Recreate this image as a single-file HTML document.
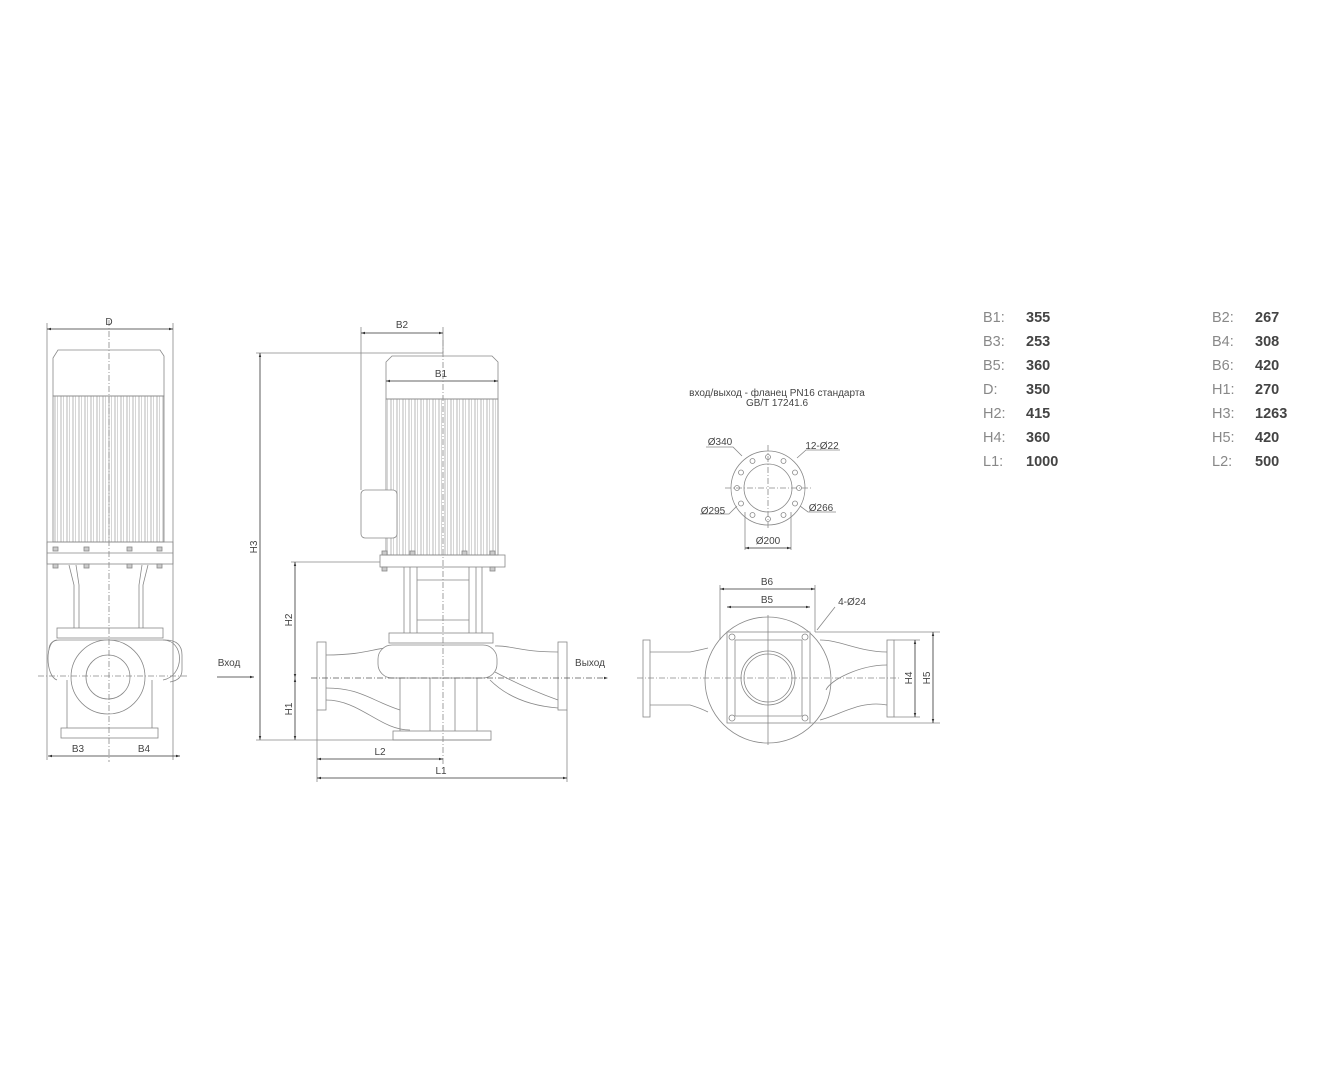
<!DOCTYPE html>
<html><head><meta charset="utf-8"><style>
html,body{margin:0;padding:0;background:#fff;}
svg{display:block;}
.t{font-family:"Liberation Sans",sans-serif;font-size:10px;fill:#444;}
.lab{font-family:"Liberation Sans",sans-serif;font-size:14.5px;fill:#888;}
.val{font-family:"Liberation Sans",sans-serif;font-size:14.5px;fill:#444;font-weight:bold;}
</style></head><body>
<svg width="1327" height="1086" viewBox="0 0 1327 1086" xmlns="http://www.w3.org/2000/svg">
<defs>
<pattern id="fins" width="6" height="10" patternUnits="userSpaceOnUse">
<line x1="1" y1="0" x2="1" y2="10" stroke="#999" stroke-width="0.7"/>
<line x1="3.5" y1="0" x2="3.5" y2="10" stroke="#bbb" stroke-width="0.6"/>
</pattern>
<marker id="ar" viewBox="0 0 10 10" refX="10" refY="5" markerWidth="7" markerHeight="5" orient="auto-start-reverse"><path d="M0,2 L10,5 L0,8z" fill="#333"/></marker>
</defs>
<g fill="none" stroke="#888" stroke-width="0.8">
<line x1="47" y1="323" x2="47" y2="760"/><line x1="173" y1="323" x2="173" y2="760"/>
<line x1="47" y1="329" x2="173" y2="329" stroke="#333" marker-start="url(#ar)" marker-end="url(#ar)"/>
<path d="M53,396 V358 L58,350 H160 L164,356 V396 Z"/>
<rect x="53" y="396" width="111" height="146" fill="url(#fins)"/>
<rect x="47" y="542" width="126" height="22"/>
<line x1="47" y1="553" x2="173" y2="553"/>
<g fill="#ccc"><rect x="53" y="547" width="5" height="4"/><rect x="84" y="547" width="5" height="4"/><rect x="127" y="547" width="5" height="4"/><rect x="157" y="547" width="5" height="4"/>
<rect x="53" y="564" width="5" height="4"/><rect x="84" y="564" width="5" height="4"/><rect x="127" y="564" width="5" height="4"/><rect x="157" y="564" width="5" height="4"/></g>
<path d="M69,565 L74,585 V628 M76,565 L79,585 V628 M148,565 L143,585 V628 M142,565 L139,585 V628"/>
<rect x="57" y="628" width="106" height="10"/>
<path d="M57,640 C45,640 45,676 57,680 M163,640 C185,640 185,676 163,680"/>
<path d="M49,650 Q49,640 60,640 H165 Q182,640 182,655 V670 Q182,680 170,682"/>
<path d="M67,680 V728 M152,680 V728"/>
<rect x="61" y="728" width="97" height="10"/>
<circle cx="108" cy="677" r="37" fill="#fff"/>
<circle cx="108" cy="677" r="22"/>
<line x1="109" y1="320" x2="109" y2="762" stroke-dasharray="6,2,1,2"/>
<line x1="38" y1="676" x2="188" y2="676" stroke-dasharray="6,2,1,2"/>
<line x1="48" y1="756" x2="180" y2="756" stroke="#333" marker-start="url(#ar)" marker-end="url(#ar)"/>
<line x1="217" y1="677" x2="254" y2="677" stroke="#333" marker-end="url(#ar)"/>

<line x1="256" y1="353" x2="443" y2="353"/>
<line x1="260" y1="353" x2="260" y2="740" stroke="#333" marker-start="url(#ar)" marker-end="url(#ar)"/>
<line x1="361" y1="327" x2="361" y2="490"/><line x1="443" y1="327" x2="443" y2="353"/>
<line x1="361" y1="333" x2="443" y2="333" stroke="#333" marker-start="url(#ar)" marker-end="url(#ar)"/>
<path d="M386,399 V362 L392,356 H492 L498,362 V399 Z"/>
<line x1="386" y1="381" x2="498" y2="381" stroke="#333" marker-start="url(#ar)" marker-end="url(#ar)"/>
<rect x="386" y="399" width="112" height="156" fill="url(#fins)"/>
<rect x="361" y="490" width="36" height="48" rx="4" fill="#fff"/>
<rect x="380" y="555" width="125" height="12"/>
<g fill="#ccc"><rect x="382" y="551" width="5" height="4"/><rect x="410" y="551" width="5" height="4"/><rect x="462" y="551" width="5" height="4"/><rect x="490" y="551" width="5" height="4"/>
<rect x="382" y="567" width="5" height="4"/><rect x="490" y="567" width="5" height="4"/></g>
<line x1="291" y1="562" x2="380" y2="562"/>
<line x1="295" y1="562" x2="295" y2="678" stroke="#333" marker-start="url(#ar)" marker-end="url(#ar)"/>
<line x1="295" y1="678" x2="295" y2="740" stroke="#333" marker-start="url(#ar)" marker-end="url(#ar)"/>
<path d="M404,567 V633 M410,567 V633 M476,567 V633 M482,567 V633 M417,567 V633 M469,567 V633 M417,580 H469 M417,620 H469"/>
<rect x="389" y="633" width="104" height="10"/>
<rect x="317" y="642" width="9" height="68"/><rect x="558" y="642" width="9" height="68"/>
<path d="M326,655 C360,655 370,650 385,648 M326,700 C360,700 380,730 410,730 M326,688 C360,688 370,700 400,710"/>
<path d="M558,652 C520,652 510,645 495,646 M558,708 C520,705 500,690 490,680 M558,700 C530,690 510,680 495,672"/>
<rect x="378" y="645" width="119" height="33" rx="14" fill="#fff"/>
<path d="M400,678 V731 M477,678 V731 M430,678 V731 M455,678 V731"/>
<rect x="393" y="731" width="98" height="9"/>
<line x1="443" y1="340" x2="443" y2="765" stroke-dasharray="6,2,1,2"/>
<line x1="311" y1="678" x2="608" y2="678" stroke-dasharray="6,2,1,2" stroke="#555" marker-end="url(#ar)"/>
<line x1="256" y1="740" x2="491" y2="740"/>
<line x1="317" y1="710" x2="317" y2="782"/><line x1="567" y1="710" x2="567" y2="782"/>
<line x1="317" y1="759" x2="443" y2="759" stroke="#333" marker-start="url(#ar)" marker-end="url(#ar)"/>
<line x1="317" y1="778" x2="567" y2="778" stroke="#333" marker-start="url(#ar)" marker-end="url(#ar)"/>

<circle cx="768" cy="488" r="37"/>
<circle cx="768" cy="488" r="24"/>
<g>
<circle cx="768" cy="457" r="2.5"/><circle cx="783.5" cy="461" r="2.5"/><circle cx="795" cy="472.5" r="2.5"/><circle cx="799" cy="488" r="2.5"/><circle cx="795" cy="503.5" r="2.5"/><circle cx="783.5" cy="515" r="2.5"/>
<circle cx="768" cy="519" r="2.5"/><circle cx="752.5" cy="515" r="2.5"/><circle cx="741" cy="503.5" r="2.5"/><circle cx="737" cy="488" r="2.5"/><circle cx="741" cy="472.5" r="2.5"/><circle cx="752.5" cy="461" r="2.5"/>
</g>
<line x1="725" y1="488" x2="812" y2="488" stroke-dasharray="6,2,1,2"/>
<line x1="768" y1="445" x2="768" y2="530" stroke-dasharray="6,2,1,2"/>
<path d="M706,447 H733 L742,456"/><path d="M840,450 H806 L797,458"/>
<path d="M700,514 H729 L737,506"/><path d="M836,512 H808 L800,506"/>
<line x1="745" y1="512" x2="745" y2="550"/><line x1="791" y1="512" x2="791" y2="550"/>
<line x1="745" y1="548" x2="791" y2="548" stroke="#333" marker-start="url(#ar)" marker-end="url(#ar)"/>

<line x1="720" y1="585" x2="720" y2="640"/><line x1="815" y1="585" x2="815" y2="632"/>
<line x1="720" y1="589" x2="815" y2="589" stroke="#333" marker-start="url(#ar)" marker-end="url(#ar)"/>
<line x1="727" y1="607" x2="810" y2="607" stroke="#333" marker-start="url(#ar)" marker-end="url(#ar)"/>
<path d="M835,607 L817,630"/>
<circle cx="768" cy="680" r="63"/>
<rect x="643" y="640" width="7" height="77"/><rect x="887" y="640" width="7" height="77"/>
<path d="M650,652 H690 Q700,650 708,648 M650,705 H690 Q700,708 708,712"/>
<path d="M887,652 C860,652 840,640 820,640 M887,705 C860,700 840,715 820,720 M887,665 C860,665 830,680 826,690"/>
<rect x="727" y="632" width="83" height="91" fill="#fff"/>
<path d="M735,640 H802 V716 H735 Z"/>
<circle cx="768" cy="678" r="27"/><circle cx="768" cy="678" r="24"/>
<circle cx="732" cy="637" r="3"/><circle cx="805" cy="637" r="3"/><circle cx="732" cy="718" r="3"/><circle cx="805" cy="718" r="3"/>
<line x1="637" y1="678" x2="900" y2="678" stroke-dasharray="6,2,1,2"/>
<line x1="768" y1="615" x2="768" y2="745"/>
<line x1="815" y1="632" x2="940" y2="632"/><line x1="810" y1="723" x2="940" y2="723"/>
<line x1="894" y1="640" x2="920" y2="640"/><line x1="894" y1="717" x2="920" y2="717"/>
<line x1="915" y1="640" x2="915" y2="717" stroke="#333" marker-start="url(#ar)" marker-end="url(#ar)"/>
<line x1="933" y1="632" x2="933" y2="723" stroke="#333" marker-start="url(#ar)" marker-end="url(#ar)"/>
</g>

<text class="t" x="109" y="325" text-anchor="middle">D</text>
<text class="t" x="78" y="752" text-anchor="middle">B3</text>
<text class="t" x="144" y="752" text-anchor="middle">B4</text>
<text class="t" x="229" y="666" text-anchor="middle" font-size="8">Вход</text>
<text class="t" x="590" y="666" text-anchor="middle" font-size="8">Выход</text>
<text class="t" x="402" y="328" text-anchor="middle">B2</text>
<text class="t" x="441" y="377" text-anchor="middle">B1</text>
<text class="t" transform="translate(257,547) rotate(-90)" text-anchor="middle">H3</text>
<text class="t" transform="translate(292,620) rotate(-90)" text-anchor="middle">H2</text>
<text class="t" transform="translate(292,709) rotate(-90)" text-anchor="middle">H1</text>
<text class="t" x="380" y="755" text-anchor="middle">L2</text>
<text class="t" x="441" y="774" text-anchor="middle">L1</text>
<text class="t" x="777" y="396" text-anchor="middle" font-size="7">вход/выход -  фланец PN16 стандарта</text>
<text class="t" x="777" y="406" text-anchor="middle" font-size="7">GB/T 17241.6</text>
<text class="t" x="720" y="445" text-anchor="middle">Ø340</text>
<text class="t" x="822" y="449" text-anchor="middle">12-Ø22</text>
<text class="t" x="713" y="514" text-anchor="middle">Ø295</text>
<text class="t" x="821" y="511" text-anchor="middle">Ø266</text>
<text class="t" x="768" y="544" text-anchor="middle">Ø200</text>
<text class="t" x="767" y="585" text-anchor="middle">B6</text>
<text class="t" x="767" y="603" text-anchor="middle">B5</text>
<text class="t" x="852" y="605" text-anchor="middle">4-Ø24</text>
<text class="t" transform="translate(912,678) rotate(-90)" text-anchor="middle">H4</text>
<text class="t" transform="translate(930,678) rotate(-90)" text-anchor="middle">H5</text>

<g>
<text class="lab" x="983" y="322">B1:</text><text class="val" x="1026" y="322">355</text>
<text class="lab" x="983" y="346">B3:</text><text class="val" x="1026" y="346">253</text>
<text class="lab" x="983" y="370">B5:</text><text class="val" x="1026" y="370">360</text>
<text class="lab" x="983" y="394">D:</text><text class="val" x="1026" y="394">350</text>
<text class="lab" x="983" y="418">H2:</text><text class="val" x="1026" y="418">415</text>
<text class="lab" x="983" y="442">H4:</text><text class="val" x="1026" y="442">360</text>
<text class="lab" x="983" y="466">L1:</text><text class="val" x="1026" y="466">1000</text>
<text class="lab" x="1212" y="322">B2:</text><text class="val" x="1255" y="322">267</text>
<text class="lab" x="1212" y="346">B4:</text><text class="val" x="1255" y="346">308</text>
<text class="lab" x="1212" y="370">B6:</text><text class="val" x="1255" y="370">420</text>
<text class="lab" x="1212" y="394">H1:</text><text class="val" x="1255" y="394">270</text>
<text class="lab" x="1212" y="418">H3:</text><text class="val" x="1255" y="418">1263</text>
<text class="lab" x="1212" y="442">H5:</text><text class="val" x="1255" y="442">420</text>
<text class="lab" x="1212" y="466">L2:</text><text class="val" x="1255" y="466">500</text>
</g>
</svg>
</body></html>
